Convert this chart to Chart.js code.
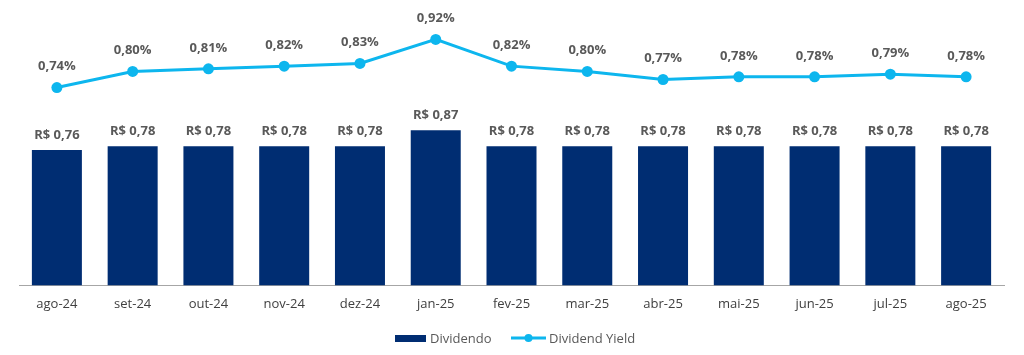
<!DOCTYPE html>
<html><head><meta charset="utf-8">
<script src="https://cdn.jsdelivr.net/npm/chart.js@4.4.1/dist/chart.umd.min.js"></script>
<style>html,body{margin:0;padding:0;background:#fff;}#wrap{width:1024px;height:355px;position:relative;}</style>
</head><body><div id="wrap"><canvas id="c" width="1024" height="355"></canvas></div>
<script>
const categories = ['ago-24','set-24','out-24','nov-24','dez-24','jan-25','fev-25','mar-25','abr-25','mai-25','jun-25','jul-25','ago-25'];
const dividendo = [0.76,0.78,0.78,0.78,0.78,0.87,0.78,0.78,0.78,0.78,0.78,0.78,0.78];
const dividendYield = [0.74,0.80,0.81,0.82,0.83,0.92,0.82,0.80,0.77,0.78,0.78,0.79,0.78];
const BAR_COLOR = '#002D72', LINE_COLOR = '#0DB6EE', LABEL_COLOR = '#595959';
const FONT = '"Open Sans", "Liberation Sans", sans-serif';

const fmt = (v, d) => v.toFixed(d).replace('.', ',');

const labelPlugin = {
  id: 'labels',
  afterDatasetsDraw(chart) {
    const ctx = chart.ctx;
    ctx.save();
    ctx.font = 'bold 13px ' + FONT;
    ctx.fillStyle = LABEL_COLOR;
    ctx.textAlign = 'center';
    ctx.textBaseline = 'middle';
    chart.getDatasetMeta(0).data.forEach((el, i) => {
      ctx.fillText('R$ ' + fmt(dividendo[i], 2), el.x, el.y - 15);
    });
    chart.getDatasetMeta(1).data.forEach((el, i) => {
      ctx.fillText(fmt(dividendYield[i], 2) + '%', el.x, el.y - 21);
    });
    // legend
    const ly = 338;
    ctx.font = '13px ' + FONT;
    ctx.textAlign = 'left';
    ctx.fillStyle = BAR_COLOR;
    ctx.fillRect(395, ly - 3, 31, 7);
    ctx.fillStyle = LABEL_COLOR;
    ctx.fillText('Dividendo', 430, ly + 1);
    ctx.strokeStyle = LINE_COLOR; ctx.lineWidth = 3;
    ctx.beginPath(); ctx.moveTo(511, ly); ctx.lineTo(546, ly); ctx.stroke();
    ctx.fillStyle = LINE_COLOR;
    ctx.beginPath(); ctx.arc(528.5, ly, 4, 0, Math.PI * 2); ctx.fill();
    ctx.fillStyle = LABEL_COLOR;
    ctx.fillText('Dividend Yield', 549, ly + 1);
    ctx.restore();
  }
};

new Chart(document.getElementById('c'), {
  data: {
    labels: categories,
    datasets: [
      { type: 'bar', label: 'Dividendo', data: dividendo, yAxisID: 'y',
        backgroundColor: BAR_COLOR, categoryPercentage: 1, barPercentage: 0.66, order: 1 },
      { type: 'line', label: 'Dividend Yield', data: dividendYield, yAxisID: 'y2',
        borderColor: LINE_COLOR, backgroundColor: LINE_COLOR, borderWidth: 3,
        pointRadius: 5.5, pointBackgroundColor: LINE_COLOR, pointBorderWidth: 0, tension: 0, order: 0 }
    ]
  },
  options: {
    responsive: false, animation: false,
    layout: { padding: { left: 19, right: 20, top: 18, bottom: 32 } },
    plugins: { legend: { display: false }, tooltip: { enabled: false } },
    scales: {
      x: { grid: { display: false, drawTicks: false }, border: { color: '#A6A6A6', width: 1 },
           ticks: { color: '#404040', font: { family: FONT, size: 13 }, padding: 11 } },
      y: { display: false, min: 0, max: 1.5 },
      y2: { display: false, min: 0, max: 1.0 }
    }
  },
  plugins: [labelPlugin]
});
</script></body></html>
